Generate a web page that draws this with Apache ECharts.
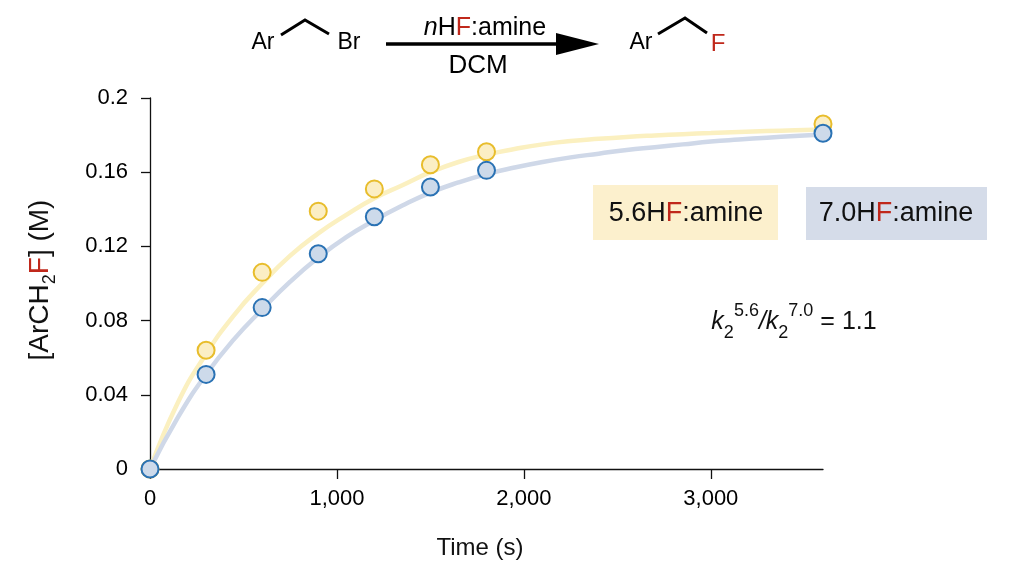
<!DOCTYPE html>
<html><head><meta charset="utf-8">
<script src="https://cdn.jsdelivr.net/npm/echarts@6/dist/echarts.min.js"></script>
<style>html,body{margin:0;padding:0;background:#fff}#c{width:1023px;height:563px}</style>
</head><body><div id="c"></div>
<script>
// ---- data ----
const xTicks = [0, 1000, 2000, 3000];
const timePts = [0, 300, 600, 900, 1200, 1500, 1800, 3600];
const yellowPts = [0, 0.064, 0.106, 0.139, 0.151, 0.164, 0.171, 0.186]; // 5.6HF:amine
const bluePts   = [0, 0.051, 0.087, 0.116, 0.136, 0.152, 0.161, 0.181]; // 7.0HF:amine
const fitTime   = [0, 150, 300, 450, 600, 750, 900, 1050, 1200, 1350, 1500, 1650, 1800,
                   1950, 2100, 2250, 2400, 2550, 2700, 2850, 3000, 3150, 3300, 3450, 3600];
const yellowFit = [0, 0.036, 0.062, 0.083, 0.100, 0.115, 0.127, 0.137, 0.146, 0.153, 0.160, 0.1655, 0.1695,
                   0.1725, 0.175, 0.1768, 0.178, 0.179, 0.1798, 0.1805, 0.1811, 0.1817, 0.1822, 0.1826, 0.183];
const blueFit   = [0, 0.028, 0.051, 0.070, 0.086, 0.101, 0.114, 0.125, 0.134, 0.142, 0.149, 0.1545, 0.159,
                   0.1625, 0.1655, 0.168, 0.170, 0.172, 0.1735, 0.175, 0.1765, 0.1776, 0.1786, 0.1795, 0.1803];

const FONT = '"Liberation Sans", Arial, Helvetica, sans-serif';
const RED = '#c0281b';
const pair = (xs, ys) => xs.map((x, i) => [x, ys[i]]);

const chart = echarts.init(document.getElementById('c'));
const axisCol = '#111';
chart.setOption({
  animation: false,
  backgroundColor: '#fff',
  grid: { left: 150, right: 200, top: 98, bottom: 94 },
  xAxis: {
    type: 'value', min: 0, max: 3600, interval: 1000,
    axisLine: { lineStyle: { color: axisCol, width: 1.3 } },
    axisTick: { length: 10, customValues: xTicks, lineStyle: { color: axisCol, width: 1.3 } },
    axisLabel: { customValues: xTicks, fontFamily: FONT, fontSize: 22, color: '#000', margin: 19,
      formatter: v => Number(v).toLocaleString('en-US') },
    splitLine: { show: false }
  },
  yAxis: {
    type: 'value', min: 0, max: 0.2, interval: 0.04,
    axisLine: { show: true, lineStyle: { color: axisCol, width: 1.3 } },
    axisTick: { show: true, length: 9, lineStyle: { color: axisCol, width: 1.3 } },
    axisLabel: { fontFamily: FONT, fontSize: 22, color: '#000', margin: 22,
      formatter: v => String(+Number(v).toFixed(2)) },
    splitLine: { show: false }
  },
  series: [
    { type: 'line', data: pair(fitTime, yellowFit), smooth: 0.5, showSymbol: false,
      lineStyle: { color: '#fbf0c0', width: 4.5 }, z: 1, silent: true },
    { type: 'line', data: pair(fitTime, blueFit), smooth: 0.5, showSymbol: false,
      lineStyle: { color: '#cfd8e8', width: 4.5 }, z: 1, silent: true },
    { type: 'scatter', data: pair(timePts, yellowPts), symbolSize: 17, z: 3,
      itemStyle: { color: '#fbeec4', borderColor: '#e8bd2c', borderWidth: 2, opacity: 1 } },
    { type: 'scatter', data: pair(timePts, bluePts), symbolSize: 17, z: 4,
      itemStyle: { color: '#cddaea', borderColor: '#2a72b4', borderWidth: 2, opacity: 1 } }
  ],
  graphic: [
    // reaction scheme
    { type: 'text', x: 263, y: 43, style: { text: 'Ar', font: '23px ' + FONT, fill: '#000', align: 'center', verticalAlign: 'middle' } },
    { type: 'polyline', shape: { points: [[281, 35], [305, 20], [329, 34]] }, style: { stroke: '#000', lineWidth: 3, fill: null } },
    { type: 'text', x: 349, y: 43, style: { text: 'Br', font: '23px ' + FONT, fill: '#000', align: 'center', verticalAlign: 'middle' } },
    { type: 'line', shape: { x1: 386, y1: 44, x2: 566, y2: 44 }, style: { stroke: '#000', lineWidth: 3.5 } },
    { type: 'polygon', shape: { points: [[556, 33], [599, 44], [556, 55]] }, style: { fill: '#000' } },
    { type: 'text', x: 485, y: 28, style: { text: '{i|n}H{r|F}:amine', font: '25px ' + FONT, fill: '#000', align: 'center', verticalAlign: 'middle',
      rich: { i: { font: 'italic 25px ' + FONT, fill: '#000' }, r: { font: '25px ' + FONT, fill: RED } } } },
    { type: 'text', x: 478, y: 66, style: { text: 'DCM', font: '26px ' + FONT, fill: '#000', align: 'center', verticalAlign: 'middle' } },
    { type: 'text', x: 641, y: 43, style: { text: 'Ar', font: '23px ' + FONT, fill: '#000', align: 'center', verticalAlign: 'middle' } },
    { type: 'polyline', shape: { points: [[658, 34], [685, 18], [707, 33]] }, style: { stroke: '#000', lineWidth: 3, fill: null } },
    { type: 'text', x: 718, y: 44, style: { text: 'F', font: '24px ' + FONT, fill: RED, align: 'center', verticalAlign: 'middle' } },
    // legend boxes
    { type: 'rect', shape: { x: 593, y: 185, width: 185, height: 55 }, style: { fill: '#fcf0cd' }, z: 10 },
    { type: 'text', x: 686, y: 214, z: 11, style: { text: '5.6H{r|F}:amine', font: '27px ' + FONT, fill: '#111', align: 'center', verticalAlign: 'middle',
      rich: { r: { font: '27px ' + FONT, fill: RED } } } },
    { type: 'rect', shape: { x: 806, y: 187, width: 181, height: 53 }, style: { fill: '#d5dce9' }, z: 10 },
    { type: 'text', x: 896, y: 214, z: 11, style: { text: '7.0H{r|F}:amine', font: '27px ' + FONT, fill: '#111', align: 'center', verticalAlign: 'middle',
      rich: { r: { font: '27px ' + FONT, fill: RED } } } },
    // rate ratio
    { type: 'text', x: 794, y: 322, z: 11, style: {
      text: '{i|k}{sub|2}{sup|5.6}{i|/k}{sub|2}{sup|7.0}{n| = 1.1}',
      font: '24px ' + FONT, fill: '#111', align: 'center', verticalAlign: 'middle', lineHeight: 40,
      rich: {
        i: { font: 'italic 25px ' + FONT, fill: '#111', lineHeight: 40 },
        n: { font: '25px ' + FONT, fill: '#111', lineHeight: 40 },
        sub: { font: '18px ' + FONT, fill: '#111', lineHeight: 22, verticalAlign: 'bottom' },
        sup: { font: '18px ' + FONT, fill: '#111', lineHeight: 18, verticalAlign: 'top' }
      } } },
    // axis titles
    { type: 'text', x: 40, y: 280, rotation: Math.PI / 2, style: {
      text: '[ArCH{sub|2}{r|F}] (M)', font: '28px ' + FONT, fill: '#111', align: 'center', verticalAlign: 'middle', lineHeight: 38,
      rich: {
        sub: { font: '18px ' + FONT, fill: '#111', lineHeight: 16, verticalAlign: 'bottom' },
        r: { font: '28px ' + FONT, fill: RED, lineHeight: 38 }
      } } },
    { type: 'text', x: 480, y: 548, style: { text: 'Time (s)', font: '24px ' + FONT, fill: '#111', align: 'center', verticalAlign: 'middle' } }
  ]
});
</script>
</body></html>
